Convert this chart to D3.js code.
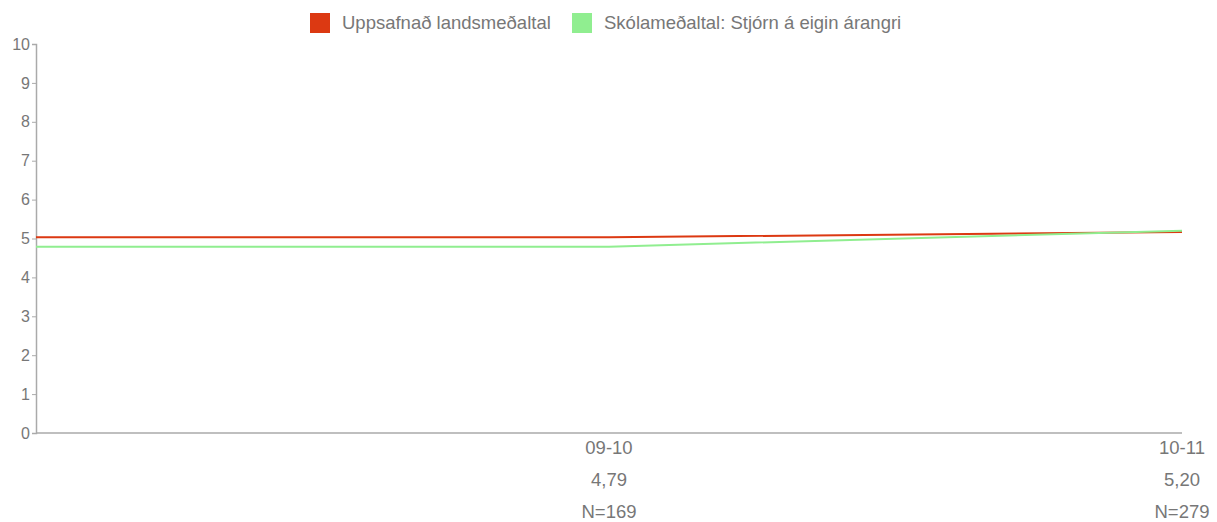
<!DOCTYPE html>
<html>
<head>
<meta charset="utf-8">
<script src="https://cdn.jsdelivr.net/npm/d3@7"></script>
<style>
body { margin: 0; background: #fff; }
text { font-family: "Liberation Sans", Arial, sans-serif; }
</style>
</head>
<body>
<div id="chart"></div>
<script>
const width = 1217;
const height = 522;

const margin = { top: 44, left: 36, right: 35, bottom: 89 };

// data
const categories = ["", "09-10", "10-11"];
const nationalAvg = [5.03, 5.03, 5.17];
const schoolAvg = [4.79, 4.79, 5.20];
const schoolLabels = ["", "4,79", "5,20"];
const nLabels = ["", "N=169", "N=279"];
const yTicks = [0, 1, 2, 3, 4, 5, 6, 7, 8, 9, 10];

const seriesNames = ["Uppsafnað landsmeðaltal", "Skólameðaltal: Stjórn á eigin árangri"];
const colors = ["#dc3912", "#90ee90"];

const xScale = d3.scalePoint()
    .domain(categories)
    .range([margin.left, width - margin.right]);

const yScale = d3.scaleLinear()
    .domain([0, 10])
    .range([height - margin.bottom, margin.top]);

const svg = d3.select("#chart").append("svg").attr("width", width).attr("height", height);

// y axis
const yAxis = svg.append("g")
    .attr("transform", `translate(${margin.left},0)`)
    .call(d3.axisLeft(yScale).tickValues(yTicks).tickSize(4).tickPadding(2));
yAxis.select(".domain").attr("stroke", "#aaa").attr("stroke-width", 1.5);
yAxis.selectAll(".tick line").attr("stroke", "#aaa");
yAxis.selectAll("text").attr("fill", "#777").style("font-size", "16px");

// x axis line
svg.append("line")
    .attr("x1", margin.left)
    .attr("x2", width - margin.right)
    .attr("y1", yScale(0))
    .attr("y2", yScale(0))
    .attr("stroke", "#aaa")
    .attr("stroke-width", 1.5);

// x labels
const labelRows = [categories, schoolLabels, nLabels];
labelRows.forEach((row, i) => {
    svg.selectAll(`text.xrow${i}`)
        .data(categories)
        .join("text")
        .attr("class", `xrow${i}`)
        .attr("x", d => xScale(d))
        .attr("y", yScale(0) + 21 + i * 32)
        .attr("text-anchor", "middle")
        .attr("fill", "#777")
        .style("font-size", "18.5px")
        .text((d, j) => row[j]);
});

// lines
const line = d3.line()
    .x((d, i) => xScale(categories[i]))
    .y(d => yScale(d));

[nationalAvg, schoolAvg].forEach((vals, i) => {
    svg.append("path")
        .datum(vals)
        .attr("fill", "none")
        .attr("stroke", colors[i])
        .attr("stroke-width", 2)
        .attr("d", line);
});

// legend
const legendX = [310, 572];
const legend = svg.selectAll("g.legend")
    .data(seriesNames)
    .join("g")
    .attr("class", "legend")
    .attr("transform", (d, i) => `translate(${legendX[i]},13)`);

legend.append("rect")
    .attr("width", 20)
    .attr("height", 20)
    .attr("fill", (d, i) => colors[i]);

legend.append("text")
    .attr("x", 32)
    .attr("y", 10)
    .attr("dy", "0.35em")
    .attr("fill", "#777")
    .style("font-size", "18.5px")
    .text(d => d);
</script>
</body>
</html>
